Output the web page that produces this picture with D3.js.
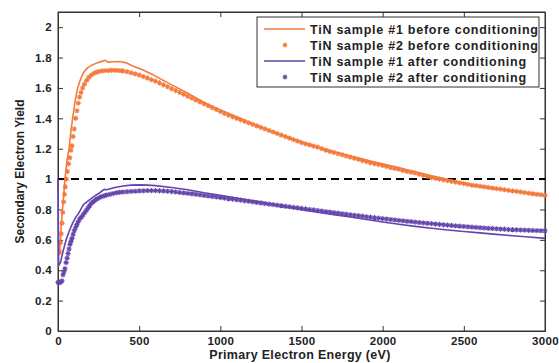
<!DOCTYPE html>
<html>
<head>
<meta charset="utf-8">
<script src="https://cdn.jsdelivr.net/npm/d3@7"></script>
<style>
  body { margin: 0; background: #fff; }
  text { font-family: "Liberation Sans", Arial, sans-serif; font-weight: bold; fill: #222; }
</style>
</head>
<body>
<div id="chart"></div>
<script>
// series names (legend)
var seriesNames = [
  'TiN sample #1 before conditioning',
  'TiN sample #2 before conditioning',
  'TiN sample #1 after conditioning',
  'TiN sample #2 after conditioning'
];

var xTicks = [0, 500, 1000, 1500, 2000, 2500, 3000];
var yTicks = [0, 0.2, 0.4, 0.6, 0.8, 1, 1.2, 1.4, 1.6, 1.8, 2];

// sample #1 before (line) [eV, yield]
var before1 = [
  [10,0.50],[20,0.70],[30,0.83],[43,1.00],[55,1.12],[68,1.20],[80,1.32],[90,1.40],
  [105,1.51],[121,1.60],[140,1.66],[156,1.70],[180,1.73],[208,1.75],[240,1.765],
  [270,1.775],[290,1.782],[310,1.77],[340,1.772],[380,1.774],[420,1.765],[460,1.745],
  [520,1.72],[580,1.69],[640,1.655],[700,1.62],[800,1.565],[900,1.505],[1000,1.455],
  [1100,1.41],[1200,1.365],[1350,1.30],[1500,1.245],[1650,1.195],[1800,1.152],
  [1950,1.112],[2100,1.075],[2250,1.035],[2400,0.997],[2550,0.962],[2700,0.937],
  [2850,0.915],[3000,0.895]
];

// sample #2 before (markers)
var before2 = [
  [10,0.52],[15,0.58],[20,0.64],[25,0.71],[30,0.78],[35,0.85],[40,0.90],[45,0.95],
  [52,1.00],[58,1.05],[65,1.10],[72,1.14],[80,1.19],[86,1.22],[93,1.28],[100,1.33],
  [109,1.40],[117,1.45],[125,1.50],[133,1.54],[142,1.57],[152,1.60],[163,1.625],
  [177,1.65],[190,1.67],[205,1.685],[220,1.695],[235,1.703],[250,1.708],[270,1.712],
  [290,1.714],[310,1.714],[330,1.716],[350,1.716],[370,1.715],[390,1.713],
  [400,1.712],[425,1.707],[450,1.700],[475,1.693],[500,1.685],[525,1.675],[550,1.665],
  [575,1.655],[600,1.645],[625,1.633],[650,1.620],[675,1.608],[700,1.595],[725,1.583],
  [750,1.570],[775,1.558],[800,1.545],[825,1.533],[850,1.520],[875,1.508],[900,1.495],
  [925,1.483],[950,1.470],[975,1.458],[1000,1.445],[1025,1.433],[1050,1.421],
  [1075,1.410],[1100,1.400],[1125,1.390],[1150,1.380],[1175,1.370],[1200,1.360],
  [1225,1.350],[1250,1.340],[1275,1.330],[1300,1.320],[1325,1.310],[1350,1.300],
  [1375,1.290],[1400,1.280],[1425,1.270],[1450,1.260],[1475,1.250],[1500,1.240],
  [1525,1.232],[1550,1.225],[1575,1.217],[1600,1.210],[1625,1.200],[1650,1.190],
  [1675,1.182],[1700,1.175],[1725,1.167],[1750,1.160],[1775,1.152],[1800,1.145],
  [1825,1.137],[1850,1.130],[1875,1.122],[1900,1.115],[1925,1.107],[1950,1.100],
  [1975,1.095],[2000,1.090],[2025,1.082],[2050,1.075],[2075,1.070],[2100,1.065],
  [2125,1.057],[2150,1.050],[2175,1.045],[2200,1.040],[2225,1.032],[2250,1.025],
  [2275,1.017],[2300,1.010],[2325,1.005],[2350,1.000],[2375,0.995],[2400,0.990],
  [2425,0.985],[2450,0.980],[2475,0.975],[2500,0.970],[2525,0.965],[2550,0.960],
  [2575,0.957],[2600,0.953],[2625,0.949],[2650,0.945],[2675,0.941],[2700,0.937],
  [2725,0.934],[2750,0.930],[2775,0.926],[2800,0.922],[2825,0.919],[2850,0.915],
  [2875,0.911],[2900,0.907],[2925,0.904],[2950,0.900],[2975,0.897],[3000,0.893]
];

// sample #1 after (line)
var after1 = [
  [0,1.00],[4,0.43],[15,0.45],[30,0.52],[50,0.60],[70,0.66],[90,0.71],[110,0.75],
  [130,0.78],[150,0.82],[160,0.835],[190,0.86],[220,0.885],[250,0.905],[275,0.925],
  [285,0.932],[300,0.93],[350,0.945],[400,0.955],[450,0.96],[500,0.962],[550,0.96],
  [600,0.957],[700,0.945],[800,0.93],[900,0.91],[1000,0.893],[1100,0.875],[1200,0.858],
  [1300,0.838],[1400,0.818],[1500,0.798],[1600,0.782],[1700,0.766],[1800,0.75],
  [1900,0.734],[2000,0.718],[2100,0.703],[2200,0.689],[2300,0.676],[2400,0.665],
  [2500,0.655],[2600,0.646],[2700,0.636],[2800,0.627],[2900,0.619],[3000,0.61]
];

// sample #2 after (markers)
var after2 = [
  [0,0.32],[8,0.32],[16,0.32],[24,0.33],[31,0.37],[37,0.39],[43,0.41],[50,0.45],
  [56,0.48],[62,0.51],[68,0.54],[74,0.57],[80,0.59],[86,0.61],[93,0.635],[100,0.66],
  [108,0.68],[116,0.70],[125,0.72],[135,0.74],[145,0.75],[155,0.765],[165,0.78],
  [175,0.795],[185,0.81],[195,0.825],[205,0.84],[216,0.85],[228,0.86],[240,0.87],
  [255,0.878],[270,0.885],[285,0.89],[300,0.895],[320,0.90],[340,0.905],[360,0.91],
  [380,0.913],[400,0.915],[425,0.917],[450,0.919],[475,0.92],[500,0.922],[525,0.923],
  [550,0.924],[575,0.924],[600,0.924],[625,0.923],[650,0.922],[675,0.92],[700,0.918],
  [725,0.915],[750,0.912],[775,0.909],[800,0.906],[825,0.903],[850,0.90],[875,0.896],
  [900,0.892],[925,0.889],[950,0.885],[975,0.882],[1000,0.878],[1025,0.875],
  [1050,0.871],[1075,0.868],[1100,0.864],[1125,0.861],[1150,0.857],[1175,0.854],
  [1200,0.85],[1225,0.846],[1250,0.843],[1275,0.839],[1300,0.835],[1325,0.832],
  [1350,0.828],[1375,0.825],[1400,0.821],[1425,0.818],[1450,0.814],[1475,0.811],
  [1500,0.807],[1525,0.804],[1550,0.80],[1575,0.797],[1600,0.793],[1625,0.79],
  [1650,0.786],[1675,0.783],[1700,0.779],[1725,0.776],[1750,0.772],[1775,0.769],
  [1800,0.765],[1825,0.762],[1850,0.759],[1875,0.756],[1900,0.752],[1925,0.749],
  [1950,0.746],[1975,0.743],[2000,0.74],[2025,0.737],[2050,0.734],[2075,0.731],
  [2100,0.728],[2125,0.725],[2150,0.722],[2175,0.72],[2200,0.717],[2225,0.714],
  [2250,0.712],[2275,0.709],[2300,0.707],[2325,0.704],[2350,0.702],[2375,0.699],
  [2400,0.697],[2425,0.695],[2450,0.692],[2475,0.69],[2500,0.688],[2525,0.686],
  [2550,0.684],[2575,0.682],[2600,0.68],[2625,0.678],[2650,0.676],[2675,0.675],
  [2700,0.673],[2725,0.671],[2750,0.67],[2775,0.668],[2800,0.667],[2825,0.666],
  [2850,0.665],[2875,0.664],[2900,0.663],[2925,0.662],[2950,0.661],[2975,0.66],
  [3000,0.66]
];

var orange = '#f47a3c',
    purple = '#6445ab';

var width = 559,
    height = 363,
    margin = {left: 58, right: 14, top: 12, bottom: 32};

var svg = d3.select('#chart')
  .append('svg')
    .attr('width', width)
    .attr('height', height);

var x = d3.scaleLinear().domain([0, 3000]).range([margin.left, width - margin.right]);
var y = d3.scaleLinear().domain([0, 2.1]).range([height - margin.bottom, margin.top]);

// plot frame
svg.append('rect')
  .attr('x', x(0)).attr('y', y(2.1))
  .attr('width', x(3000) - x(0)).attr('height', y(0) - y(2.1))
  .attr('fill', '#fff').attr('stroke', '#333').attr('stroke-width', 1);

// axes, ticks pointing inward
var fmt = function(d) { return +d.toFixed(1); };
svg.append('g')
  .attr('transform', 'translate(0,' + y(0) + ')')
  .call(d3.axisBottom(x).tickValues(xTicks).tickSize(-5).tickPadding(6).tickFormat(d3.format('d')));
svg.append('g')
  .attr('transform', 'translate(0,' + y(2.1) + ')')
  .call(d3.axisTop(x).tickValues(xTicks).tickSize(-5).tickFormat(''));
svg.append('g')
  .attr('transform', 'translate(' + x(0) + ',0)')
  .call(d3.axisLeft(y).tickValues(yTicks).tickSize(-5).tickPadding(6).tickFormat(fmt));
svg.append('g')
  .attr('transform', 'translate(' + x(3000) + ',0)')
  .call(d3.axisRight(y).tickValues(yTicks).tickSize(-5).tickFormat(''));

svg.selectAll('.domain').attr('stroke', '#333');
svg.selectAll('.tick line').attr('stroke', '#333');
svg.selectAll('.tick text').style('font-size', '11.5px').style('letter-spacing', '0.3px').attr('fill', '#222');

// axis titles
svg.append('text')
  .attr('x', 300)
  .attr('y', 359)
  .attr('text-anchor', 'middle')
  .style('font-size', '12.5px')
  .style('letter-spacing', '0.3px')
  .text('Primary Electron Energy (eV)');

svg.append('text')
  .attr('transform', 'translate(24,' + (y(0) + y(2.1)) / 2 + ')rotate(-90)')
  .attr('text-anchor', 'middle')
  .style('font-size', '12px')
  .text('Secondary Electron Yield');

// dashed reference at yield = 1
svg.append('line')
  .attr('x1', x(0)).attr('x2', x(3000))
  .attr('y1', y(1)).attr('y2', y(1))
  .attr('stroke', '#000').attr('stroke-width', 2)
  .attr('stroke-dasharray', '8,5');

var line = d3.line()
  .x(function(d) { return x(d[0]); })
  .y(function(d) { return y(d[1]); });

// asterisk marker
var star = function(r) {
  var a = r * 0.7;
  return 'M' + (-r) + ',0H' + r + 'M0,' + (-r) + 'V' + r +
    'M' + (-a) + ',' + (-a) + 'L' + a + ',' + a +
    'M' + (-a) + ',' + a + 'L' + a + ',' + (-a);
};

function drawMarkers(data, color) {
  svg.append('g').selectAll('path')
    .data(data)
    .enter().append('path')
      .attr('transform', function(d) { return 'translate(' + x(d[0]) + ',' + y(d[1]) + ')'; })
      .attr('d', star(2.6))
      .attr('fill', 'none')
      .attr('stroke', color)
      .attr('stroke-width', 1.1);
}

drawMarkers(before2, orange);
drawMarkers(after2, purple);

svg.append('path').datum(before1)
  .attr('d', line).attr('fill', 'none').attr('stroke', orange).attr('stroke-width', 1.6);
svg.append('path').datum(after1)
  .attr('d', line).attr('fill', 'none').attr('stroke', purple).attr('stroke-width', 1.6);

// legend
var legend = svg.append('g');
legend.append('rect')
  .attr('x', 257).attr('y', 17).attr('width', 282).attr('height', 70)
  .attr('fill', '#fff').attr('stroke', '#333').attr('stroke-width', 1);

var legendColors = [orange, orange, purple, purple];
seriesNames.forEach(function(name, i) {
  var ly = 29 + i * 16;
  if (i % 2 === 0) {
    legend.append('line')
      .attr('x1', 264).attr('x2', 305).attr('y1', ly).attr('y2', ly)
      .attr('stroke', legendColors[i]).attr('stroke-width', 1.6);
  } else {
    legend.append('path')
      .attr('transform', 'translate(285,' + ly + ')')
      .attr('d', star(2.4))
      .attr('fill', 'none').attr('stroke', legendColors[i]).attr('stroke-width', 1.1);
  }
  legend.append('text')
    .attr('x', 310).attr('y', ly + 4.5)
    .style('font-size', '12.5px')
    .style('letter-spacing', '0.75px')
    .text(name);
});
</script>
</body>
</html>
